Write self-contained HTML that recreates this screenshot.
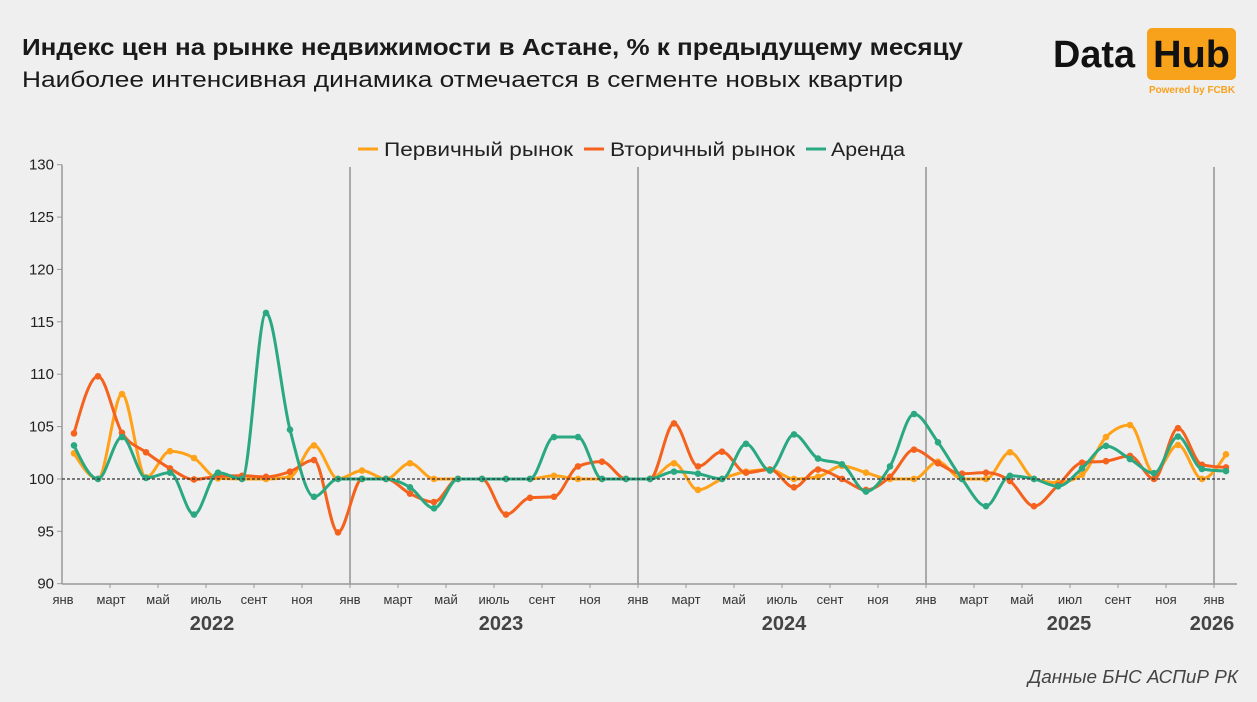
<!DOCTYPE html>
<html>
<head>
<meta charset="utf-8">
<style>
html,body{margin:0;padding:0;background:#efefef;}
svg{display:block;}
text{font-family:"Liberation Sans","DejaVu Sans",sans-serif;}
</style>
</head>
<body>
<svg id="c" width="1257" height="702" viewBox="0 0 1257 702" xmlns="http://www.w3.org/2000/svg">
<rect x="0" y="0" width="1257" height="702" fill="#efefef"/>
<!-- Title -->
<text x="22" y="55" font-size="23" font-weight="bold" fill="#1a1a1a" textLength="941" lengthAdjust="spacingAndGlyphs">Индекс цен на рынке недвижимости в Астане, % к предыдущему месяцу</text>
<text x="22" y="87" font-size="22" fill="#1a1a1a" textLength="881" lengthAdjust="spacingAndGlyphs">Наиболее интенсивная динамика отмечается в сегменте новых квартир</text>
<!-- Logo -->
<text x="1053" y="67" font-size="38" font-weight="bold" fill="#111" textLength="82" lengthAdjust="spacingAndGlyphs">Data</text>
<rect x="1147" y="28" width="89" height="52" rx="5" fill="#f8a11b"/>
<text x="1153" y="67" font-size="38" font-weight="bold" fill="#111" textLength="77" lengthAdjust="spacingAndGlyphs">Hub</text>
<text x="1149" y="93" font-size="10" font-weight="bold" fill="#f8a11b" textLength="86" lengthAdjust="spacingAndGlyphs">Powered by FCBK</text>
<!-- Legend -->
<line x1="358" y1="149" x2="378" y2="149" stroke="#ffa21a" stroke-width="3"/>
<text x="384" y="156" font-size="19" fill="#222" textLength="189" lengthAdjust="spacingAndGlyphs">Первичный рынок</text>
<line x1="584" y1="149" x2="604" y2="149" stroke="#f4621e" stroke-width="3"/>
<text x="610" y="156" font-size="19" fill="#222" textLength="185" lengthAdjust="spacingAndGlyphs">Вторичный рынок</text>
<line x1="806" y1="149" x2="826" y2="149" stroke="#2aa882" stroke-width="3"/>
<text x="831" y="156" font-size="19" fill="#222" textLength="74" lengthAdjust="spacingAndGlyphs">Аренда</text>
<!-- Y axis -->
<line x1="62" y1="164.7" x2="62" y2="584" stroke="#999" stroke-width="1.5"/>
<g font-size="15" fill="#222" text-anchor="end">
<text x="54" y="169.7">130</text>
<text x="54" y="222.1">125</text>
<text x="54" y="274.4">120</text>
<text x="54" y="326.8">115</text>
<text x="54" y="379.2">110</text>
<text x="54" y="431.6">105</text>
<text x="54" y="484">100</text>
<text x="54" y="536.3">95</text>
<text x="54" y="588.7">90</text>
</g>
<g stroke="#999" stroke-width="1">
<line x1="57" y1="164.7" x2="62" y2="164.7"/>
<line x1="57" y1="217.1" x2="62" y2="217.1"/>
<line x1="57" y1="269.4" x2="62" y2="269.4"/>
<line x1="57" y1="321.8" x2="62" y2="321.8"/>
<line x1="57" y1="374.2" x2="62" y2="374.2"/>
<line x1="57" y1="426.6" x2="62" y2="426.6"/>
<line x1="57" y1="479" x2="62" y2="479"/>
<line x1="57" y1="531.3" x2="62" y2="531.3"/>
<line x1="57" y1="583.7" x2="62" y2="583.7"/>
</g>
<!-- Year gridlines -->
<g stroke="#aaa" stroke-width="2">
<line x1="350" y1="167" x2="350" y2="584"/>
<line x1="638" y1="167" x2="638" y2="584"/>
<line x1="926" y1="167" x2="926" y2="584"/>
<line x1="1214" y1="167" x2="1214" y2="584"/>
</g>
<!-- X axis -->
<line x1="62" y1="584" x2="1237" y2="584" stroke="#999" stroke-width="1.5"/>
<g id="xticks" stroke="#999" stroke-width="1"></g>
<g font-size="13" fill="#333" text-anchor="middle">
<text x="63" y="604">янв</text>
<text x="111" y="604">март</text>
<text x="158" y="604">май</text>
<text x="206" y="604">июль</text>
<text x="254" y="604">сент</text>
<text x="302" y="604">ноя</text>
<text x="350" y="604">янв</text>
<text x="398" y="604">март</text>
<text x="446" y="604">май</text>
<text x="494" y="604">июль</text>
<text x="542" y="604">сент</text>
<text x="590" y="604">ноя</text>
<text x="638" y="604">янв</text>
<text x="686" y="604">март</text>
<text x="734" y="604">май</text>
<text x="782" y="604">июль</text>
<text x="830" y="604">сент</text>
<text x="878" y="604">ноя</text>
<text x="926" y="604">янв</text>
<text x="974" y="604">март</text>
<text x="1022" y="604">май</text>
<text x="1070" y="604">июл</text>
<text x="1118" y="604">сент</text>
<text x="1166" y="604">ноя</text>
<text x="1214" y="604">янв</text>
</g>
<g font-size="20" font-weight="bold" fill="#444" text-anchor="middle">
<text x="212" y="630">2022</text>
<text x="501" y="630">2023</text>
<text x="784" y="630">2024</text>
<text x="1069" y="630">2025</text>
<text x="1212" y="630">2026</text>
</g>
<g id="series"></g>
<line x1="62" y1="479" x2="1226" y2="479" stroke="#333" stroke-width="1.2" stroke-dasharray="3,2"/>
<text x="1238" y="683" font-size="18" font-style="italic" fill="#444" text-anchor="end" textLength="210" lengthAdjust="spacingAndGlyphs">Данные БНС АСПиР РК</text>
</svg>
<script>
(function(){
var NS="http://www.w3.org/2000/svg";
var ticks=document.getElementById("xticks");
for(var k=1;k<25;k++){var x=62+48*k;var l=document.createElementNS(NS,"line");l.setAttribute("x1",x);l.setAttribute("x2",x);l.setAttribute("y1",584);l.setAttribute("y2",588);ticks.appendChild(l);}
var orange=[102.45,100,108.1,100.15,102.65,102.0,100.05,100.0,100.0,100.2,103.2,100.0,
100.8,100,101.5,100,100,100,100,100,100.3,100,100,100,
100,101.5,98.95,100,100.7,100.9,100,100.2,101.25,100.6,100,100,
101.65,100,100,102.55,100,99.65,100.4,104.0,105.15,100.55,103.25,100,
102.35];
var red=[104.35,109.8,104.4,102.55,101.0,99.95,100.25,100.3,100.2,100.7,101.8,94.9,
100,100,98.6,97.8,100,100,96.6,98.2,98.3,101.2,101.65,100,
100,105.3,101.2,102.6,100.6,100.9,99.2,100.9,100,98.95,100.2,102.8,
101.5,100.5,100.6,99.8,97.4,99.4,101.55,101.7,102.2,100,104.85,101.35,
101.1];
var green=[103.2,100,104.0,100.1,100.6,96.6,100.6,100.0,115.85,104.7,98.3,100,
100,100,99.2,97.2,100,100,100,100,104.0,104.0,100,100,
100,100.7,100.5,100,103.35,100.8,104.25,101.95,101.4,98.8,101.2,106.2,
103.5,100,97.4,100.3,100,99.3,101.0,103.15,101.9,100.55,104.05,100.95,
100.75];
var g=document.getElementById("series");
function sgn(x){return x<0?-1:1;}
function draw(data,color){
  var p=data.map(function(v,i){return [74+24*i,478.95-(v-100)*10.475];});
  var n=p.length,h=24,t=new Array(n);
  for(var i=1;i<n-1;i++){
    var s0=(p[i][1]-p[i-1][1])/h,s1=(p[i+1][1]-p[i][1])/h,pp=(s0+s1)/2;
    t[i]=(sgn(s0)+sgn(s1))*Math.min(Math.abs(s0),Math.abs(s1),0.5*Math.abs(pp))||0;
  }
  t[0]=(3*(p[1][1]-p[0][1])/h-t[1])/2;
  t[n-1]=(3*(p[n-1][1]-p[n-2][1])/h-t[n-2])/2;
  var d="M"+p[0][0]+","+p[0][1].toFixed(2);
  for(var i=0;i<n-1;i++){
    var dx=h/3;
    d+=" C"+(p[i][0]+dx).toFixed(2)+","+(p[i][1]+dx*t[i]).toFixed(2)+" "+(p[i+1][0]-dx).toFixed(2)+","+(p[i+1][1]-dx*t[i+1]).toFixed(2)+" "+p[i+1][0]+","+p[i+1][1].toFixed(2);
  }
  var path=document.createElementNS(NS,"path");
  path.setAttribute("d",d);path.setAttribute("fill","none");path.setAttribute("stroke",color);
  path.setAttribute("stroke-width","3");path.setAttribute("stroke-linejoin","round");path.setAttribute("stroke-linecap","round");
  g.appendChild(path);
  p.forEach(function(q){var c=document.createElementNS(NS,"circle");c.setAttribute("cx",q[0]);c.setAttribute("cy",q[1]);c.setAttribute("r","3.3");c.setAttribute("fill",color);g.appendChild(c);});
}
draw(orange,"#ffa21a");
draw(red,"#f4621e");
draw(green,"#2aa882");
})();
</script>
</body>
</html>
